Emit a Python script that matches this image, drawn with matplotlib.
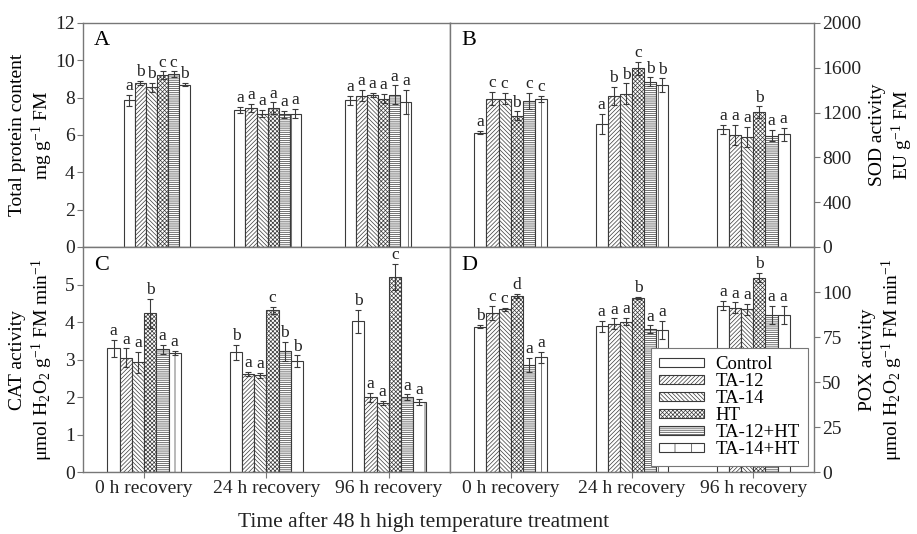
import numpy as np
import matplotlib
matplotlib.use('Agg')
import matplotlib.pyplot as plt

plt.rcParams['font.family'] = 'Liberation Serif'
plt.rcParams['mathtext.fontset'] = 'custom'
plt.rcParams['mathtext.rm'] = 'Liberation Serif'
plt.rcParams['mathtext.it'] = 'Liberation Serif:italic'
plt.rcParams['hatch.linewidth'] = 0.5

treatments = ['Control', 'TA-12', 'TA-14', 'HT', 'TA-12+HT', 'TA-14+HT']
timepoints = ['0 h recovery', '24 h recovery', '96 h recovery']

# one row per recovery time, one column per treatment
protein = [[7.85, 8.8, 8.55, 9.2, 9.25, 8.7],
           [7.35, 7.45, 7.15, 7.45, 7.1, 7.15],
           [7.85, 8.1, 8.15, 7.95, 8.15, 7.75]]
protein_se = [[0.3, 0.1, 0.25, 0.2, 0.15, 0.1],
              [0.15, 0.2, 0.2, 0.3, 0.2, 0.25],
              [0.25, 0.3, 0.1, 0.25, 0.5, 0.65]]
protein_sig = [list('abbccb'), list('aaaaaa'), list('aaaaaa')]

sod = [[1020, 1325, 1325, 1170, 1305, 1320],
       [1100, 1350, 1370, 1595, 1475, 1445],
       [1050, 1000, 980, 1205, 995, 1005]]
sod_se = [[15, 60, 50, 40, 70, 30],
          [90, 80, 90, 60, 40, 60],
          [40, 90, 90, 50, 50, 60]]
sod_sig = [list('accbcc'), list('abbcbb'), list('aaabaa')]

cat = [[3.3, 3.05, 2.93, 4.23, 3.27, 3.18],
       [3.2, 2.62, 2.58, 4.31, 3.22, 2.96],
       [4.02, 2.0, 1.84, 5.21, 2.0, 1.88]]
cat_se = [[0.22, 0.25, 0.28, 0.38, 0.12, 0.05],
          [0.2, 0.05, 0.06, 0.1, 0.25, 0.15],
          [0.3, 0.12, 0.06, 0.35, 0.07, 0.08]]
cat_sig = [list('aaabaa'), list('baacbb'), list('baacaa')]

pox = [[80.8, 88.5, 90.3, 97.8, 59.4, 63.7],
       [81.0, 82.3, 83.6, 96.8, 79.5, 79.1],
       [92.5, 91.2, 90.3, 108.0, 87.5, 87.2]]
pox_se = [[1, 4, 1, 1, 4, 3],
          [3, 3, 2, 0.5, 2, 5],
          [2.5, 3, 3, 2.5, 5, 5]]
pox_sig = [list('bccdaa'), list('aaabaa'), list('aaabaa')]

hatches = ['', '////////', '\\\\\\\\\\\\\\\\', 'xxxxxxxx', '--------', '|']
edge = '#3a3a3a'
spine_col = '#777777'


def draw_panel(ax, means, errs, sig, xlim):
    x = np.arange(len(timepoints))
    w = 0.1
    for i, name in enumerate(treatments):
        pos = x + (i - 2.5) * w
        vals = [means[t][i] for t in range(3)]
        ee = [errs[t][i] for t in range(3)]
        ax.bar(pos, vals, w, color='white', edgecolor=edge, hatch=hatches[i],
               linewidth=0.8, label=name, zorder=2)
        ax.errorbar(pos, vals, yerr=ee, fmt='none', ecolor=edge, elinewidth=0.8,
                    capsize=2, capthick=0.8, zorder=3)
        for p, v, e, t in zip(pos, vals, ee, range(3)):
            ax.annotate(sig[t][i], (p, v + e), xytext=(0, 0.5), textcoords='offset points',
                        ha='center', va='bottom', fontsize=12.5, color='#222222')
    ax.set_xlim(*xlim)
    ax.set_xticks(x)
    for s in ax.spines.values():
        s.set_color(spine_col)
        s.set_linewidth(1.0)
    ax.tick_params(axis='both', colors=spine_col, labelcolor='#222222',
                   labelsize=14, direction='out', length=4, width=0.8, pad=2)


fig = plt.figure(figsize=(9.17, 5.34), dpi=100)
axA = fig.add_axes([0.0905, 0.5375, 0.4002, 0.4195])
axB = fig.add_axes([0.4907, 0.5375, 0.397, 0.4195])
axC = fig.add_axes([0.0905, 0.1161, 0.4002, 0.4213])
axD = fig.add_axes([0.4907, 0.1161, 0.397, 0.4213])

draw_panel(axA, protein, protein_se, protein_sig, (-0.67, 2.65))
draw_panel(axB, sod, sod_se, sod_sig, (-0.5, 2.5))
draw_panel(axC, cat, cat_se, cat_sig, (-0.5, 2.5))
draw_panel(axD, pox, pox_se, pox_sig, (-0.5, 2.5))

axA.set_ylim(0, 12)
axA.set_yticks(range(0, 13, 2))
axC.set_ylim(0, 6)
axC.set_yticks(range(0, 6))
axB.set_ylim(0, 2000)
axB.set_yticks(range(0, 2001, 400))
axD.set_ylim(0, 125)
axD.set_yticks(range(0, 101, 25))

for ax in (axA, axB):
    ax.set_xticklabels([])
for ax in (axC, axD):
    ax.set_xticklabels(timepoints, fontsize=14)

for ax in (axB, axD):
    ax.yaxis.tick_right()
    ax.yaxis.set_label_position('right')

ylab_kw = dict(fontsize=14, linespacing=1.25)
axA.set_ylabel('Total protein content\nmg g$^{-1}$ FM', **ylab_kw)
axC.set_ylabel('CAT activity\n\u03bcmol H$_2$O$_2$ g$^{-1}$ FM min$^{-1}$', **ylab_kw)
axA.yaxis.set_label_coords(-0.075, 0.5)
axC.yaxis.set_label_coords(-0.075, 0.5)
axB.set_ylabel('SOD activity\nEU g$^{-1}$ FM', rotation=90, labelpad=5, **ylab_kw)
axD.set_ylabel('POX activity\n\u03bcmol H$_2$O$_2$ g$^{-1}$ FM min$^{-1}$', rotation=90, labelpad=5,
               **ylab_kw)

for ax, letter in zip((axA, axB, axC, axD), 'ABCD'):
    ax.text(0.03, 0.92, letter, transform=ax.transAxes, fontsize=16, va='center', ha='left')

leg = axD.legend(loc='lower right', fontsize=13.5, frameon=True, fancybox=False,
                 edgecolor=spine_col, framealpha=1, handlelength=2.4, handleheight=0.4,
                 labelspacing=0.0, borderaxespad=0.3, borderpad=0.45, handletextpad=0.6)
leg.get_frame().set_linewidth(0.8)

fig.text(0.462, 0.022, 'Time after 48 h high temperature treatment', ha='center', va='center',
         fontsize=15.5, color='#222222')

fig.savefig('out.png', dpi=100)
